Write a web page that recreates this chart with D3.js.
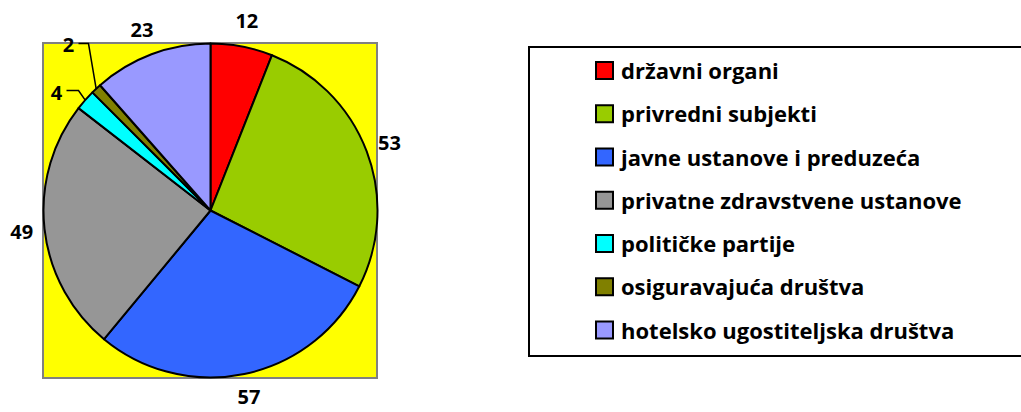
<!DOCTYPE html>
<html>
<head>
    <meta charset="utf-8">
    <script src="https://cdn.jsdelivr.net/npm/d3@7"></script>
    <style>
        body { margin: 0; background: #fff; }
        .chart text {
            font-family: "Open Sans", Lato, sans-serif;
            font-weight: bold;
            fill: #000;
        }
    </style>
</head>
<body>

<svg class="chart"></svg>

<script type="text/javascript">
    var categories = ["državni organi", "privredni subjekti", "javne ustanove i preduzeća",
        "privatne zdravstvene ustanove", "političke partije", "osiguravajuća društva",
        "hotelsko ugostiteljska društva"];
    var values = [12, 53, 57, 49, 4, 2, 23];
    var colors = ["#ff0000", "#99cc00", "#3366ff", "#969696", "#00ffff", "#808000", "#9999ff"];

    var width = 1021;
    var height = 412;

    // plot area
    var plot = {x: 43, y: 43, w: 334, h: 335};
    var cx = 210.5, cy = 210.5, radius = 167;
    var labelRadius = 190;

    // labels dragged away from small slices (offset from pie centre)
    var movedLabels = {4: {lx: -154, ly: -118, ex: -132, ey: -120},
                       5: {lx: -142, ly: -166, ex: -122, ey: -167}};

    var chart = d3.select(".chart")
        .attr("width", width)
        .attr("height", height);

    chart.append("rect")
        .attr("x", plot.x)
        .attr("y", plot.y)
        .attr("width", plot.w)
        .attr("height", plot.h)
        .attr("fill", "#ffff00")
        .attr("stroke", "#808080")
        .attr("stroke-width", 2);

    var pie = d3.pie().sort(null).value(function (d) { return d; });
    var arcs = pie(values);
    var arc = d3.arc().innerRadius(0).outerRadius(radius);

    var g = chart.append("g")
        .attr("transform", "translate(" + cx + "," + cy + ")");

    g.selectAll("path.slice")
        .data(arcs)
        .enter()
        .append("path")
        .attr("class", "slice")
        .attr("d", arc)
        .attr("fill", function (d, i) { return colors[i]; })
        .attr("stroke", "#000")
        .attr("stroke-width", 2)
        .attr("stroke-linejoin", "round");

    // data labels
    arcs.forEach(function (d, i) {
        var a = (d.startAngle + d.endAngle) / 2;
        var lx, ly;
        if (movedLabels[i]) {
            var m = movedLabels[i];
            lx = m.lx;
            ly = m.ly;
            var px = radius * Math.sin(a), py = -radius * Math.cos(a);
            g.append("polyline")
                .attr("points", [[px, py], [m.ex, m.ey], [lx + 10, m.ey]].join(" "))
                .attr("fill", "none")
                .attr("stroke", "#000")
                .attr("stroke-width", 1.5);
        } else {
            var r = labelRadius + 4 * Math.max(0, Math.cos(a));
            lx = r * Math.sin(a);
            ly = -r * Math.cos(a);
        }
        g.append("text")
            .attr("x", lx)
            .attr("y", ly)
            .attr("text-anchor", "middle")
            .attr("dominant-baseline", "central")
            .attr("font-size", 20)
            .text(values[i]);
    });

    // legend
    var legend = {x: 529, y: 47, w: 520, h: 309};
    chart.append("rect")
        .attr("x", legend.x)
        .attr("y", legend.y)
        .attr("width", legend.w)
        .attr("height", legend.h)
        .attr("fill", "#fff")
        .attr("stroke", "#000")
        .attr("stroke-width", 2);

    var rowY = d3.scalePoint()
        .domain(categories)
        .range([70, 329.5]);

    var items = chart.selectAll("g.item")
        .data(categories)
        .enter()
        .append("g")
        .attr("class", "item")
        .attr("transform", function (d) { return "translate(596," + rowY(d) + ")"; });

    items.append("rect")
        .attr("x", 0)
        .attr("y", -8)
        .attr("width", 17)
        .attr("height", 17)
        .attr("fill", function (d, i) { return colors[i]; })
        .attr("stroke", "#000")
        .attr("stroke-width", 2);

    items.append("text")
        .attr("x", 25)
        .attr("y", 0)
        .attr("dominant-baseline", "central")
        .attr("font-size", 22)
        .text(function (d) { return d; });

</script>

</body>
</html>
